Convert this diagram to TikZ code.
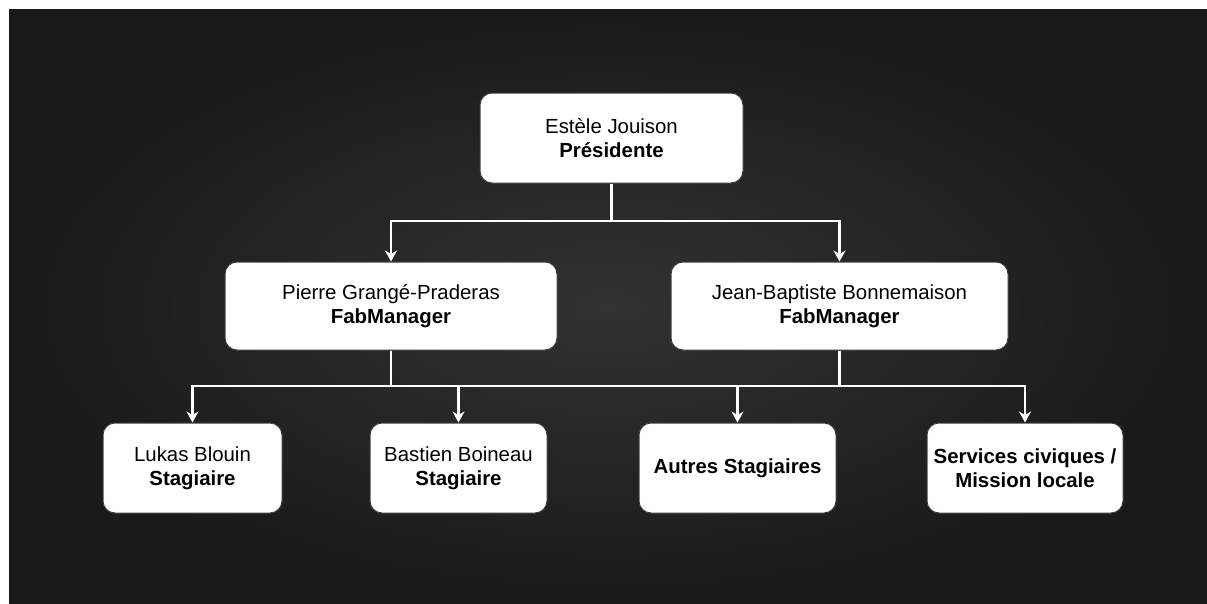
\documentclass[tikz,border=0pt]{standalone}
\usepackage{fontspec}
\setmainfont{Liberation Sans}
\usepackage{tikz}
\usetikzlibrary{calc}
\usetikzlibrary{arrows.meta,shapes}
\usetikzlibrary{positioning}
\usepackage{xcolor}
\definecolor{bgin}{RGB}{50,50,50}
\definecolor{bgout}{RGB}{26,26,26}
\definecolor{boxline}{RGB}{60,60,60}
\newcommand{\role}[1]{\textbf{#1}}
\begin{document}
\begin{tikzpicture}[x=1pt,y=-1pt,
        box/.style={draw=boxline,line width=1pt,fill=white,rounded corners=12pt,align=center,
          minimum height=90pt,inner sep=0pt,font=\fontsize{20.4}{24}\selectfont},
        link/.style={draw=white,line width=2.2pt},
        arr/.style={link,-{Stealth[length=11pt,width=12pt,inset=3.5pt]}}]
        \useasboundingbox (0,0) rectangle (1207,603);
        \fill[white] (0,0) rectangle (1207,603);
        \shade[inner color=bgin,outer color=bgout] (9,9) rectangle (1207,603);

        \node[box,minimum width=263pt] (pres) at (611.5,138) {Estèle Jouison\\\role{Présidente}};
        \node[box,minimum width=332pt,minimum height=88pt] (pgp) at (391,306) {Pierre Grangé-Praderas\\\role{FabManager}};
        \node[box,minimum width=337pt,minimum height=88pt] (jbb) at (839.5,306) {Jean-Baptiste Bonnemaison\\\role{FabManager}};
        \node[box,minimum width=179pt] (lukas) at (192.5,468) {Lukas Blouin\\\role{Stagiaire}};
        \node[box,minimum width=177pt] (bastien) at (458.5,468) {Bastien Boineau\\\role{Stagiaire}};
        \node[box,minimum width=197pt] (autres) at (737.5,468) {\role{Autres Stagiaires}};
        \node[box,minimum width=196pt] (services) at (1025,468) {\role{Services civiques /}\\\role{Mission locale}};

        \coordinate (bus1) at (0,221);
        \coordinate (bus2) at (0,386);
        \draw[arr] (pres.south) -- (pres.south |- bus1) -| (pgp.north);
        \draw[arr] (pres.south) -- (pres.south |- bus1) -| (jbb.north);
        \draw[arr] (pgp.south) -- (pgp.south |- bus2) -| (lukas.north);
        \draw[arr] (pgp.south) -- (pgp.south |- bus2) -| (bastien.north);
        \draw[arr] (jbb.south) -- (jbb.south |- bus2) -| (autres.north);
        \draw[arr] (jbb.south) -- (jbb.south |- bus2) -| (services.north);
        \draw[link] (pgp.south |- bus2) -- (jbb.south |- bus2);

      \end{tikzpicture}
\end{document}
